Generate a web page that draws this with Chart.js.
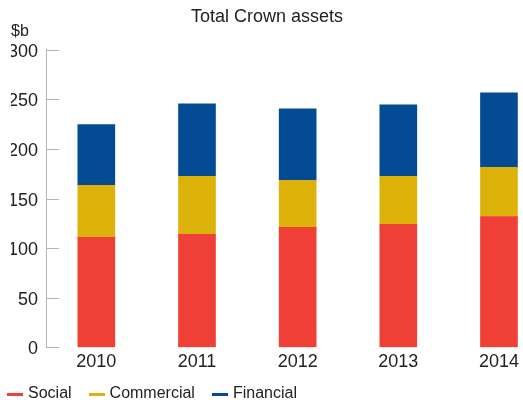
<!DOCTYPE html>
<html>
<head>
<meta charset="utf-8">
<title>Total Crown assets</title>
<script src="https://cdn.jsdelivr.net/npm/chart.js@4/dist/chart.umd.min.js"></script>
<style>
  html, body { margin: 0; padding: 0; background: #fff; }
  #wrap { position: relative; width: 523px; height: 400px; overflow: hidden; }
  #legend {
    position: absolute; left: 7px; top: 384px; height: 18px;
    display: flex; align-items: center;
    font: 16px "Liberation Sans", Arial, sans-serif; color: #222;
  }
  #legend .item { display: flex; align-items: center; margin-right: 17px; line-height: 18px; }
  #legend .swatch { width: 16px; height: 3px; margin-right: 5px; margin-top: 2px; }
</style>
</head>
<body>
<div id="wrap">
  <canvas id="assets-chart" width="523" height="400"></canvas>
  <div id="legend"></div>
</div>
<script>
// Années (axe x)
const years = [2010, 2011, 2012, 2013, 2014];

// Valeurs en milliards de dollars
const social = [111, 114, 121, 124, 132];
const commercial = [52.5, 58.5, 47.5, 48.5, 49.5];
const financial = [61, 73, 72, 72, 75];

// Graduations de l'axe y
const yTicks = [0, 50, 100, 150, 200, 250, 300];

const seriesNames = ['Social', 'Commercial', 'Financial'];
const seriesColors = ['#ef3f36', '#dcb20a', '#034c93'];

const fontFamily = '"Liberation Sans", Arial, sans-serif';

// Construction des points {x, y} pour chaque série
function toPoints(values) {
    return years.map((yr, i) => ({ x: yr, y: values[i] }));
}

// Petits traits de graduation vers l'intérieur du graphique
const innerTicks = {
    id: 'innerTicks',
    afterDraw(chart) {
        const y = chart.scales.y;
        const ctx = chart.ctx;
        ctx.save();
        ctx.strokeStyle = '#b4b4b4';
        ctx.lineWidth = 1;
        y.ticks.forEach(t => {
            const py = Math.round(y.getPixelForValue(t.value)) + 0.5;
            ctx.beginPath();
            ctx.moveTo(y.right, py);
            ctx.lineTo(y.right + 13, py);
            ctx.stroke();
        });
        ctx.restore();
    }
};

const ctx = document.getElementById('assets-chart').getContext('2d');
const chart = new Chart(ctx, {
    type: 'bar',
    data: {
        datasets: [social, commercial, financial].map((values, i) => ({
            label: seriesNames[i],
            data: toPoints(values),
            backgroundColor: seriesColors[i],
            borderWidth: 0,
            barThickness: 37
        }))
    },
    options: {
        responsive: false,
        animation: false,
        layout: {
            autoPadding: false,
            padding: { left: 11, right: 0, top: 0, bottom: 23 }
        },
        plugins: {
            legend: { display: false },
            tooltip: { enabled: false },
            title: {
                display: true,
                text: 'Total Crown assets',
                color: '#222',
                font: { family: fontFamily, size: 18, weight: 'normal', lineHeight: 1.2 },
                padding: { top: 6, bottom: -6 }
            },
            subtitle: {
                display: true,
                text: '$b',
                align: 'start',
                color: '#222',
                font: { family: fontFamily, size: 16, weight: 'normal', lineHeight: 1.2 },
                padding: { top: 0, bottom: 9 }
            }
        },
        scales: {
            x: {
                type: 'linear',
                stacked: true,
                offset: false,
                min: 2009.5,
                max: 2014.21,
                grid: { display: false, drawTicks: false, offset: false },
                border: { display: false },
                afterBuildTicks: scale => {
                    scale.ticks = years.map(v => ({ value: v }));
                },
                ticks: {
                    color: '#222',
                    padding: 4,
                    maxRotation: 0,
                    font: { family: fontFamily, size: 18 },
                    callback: v => String(v)
                }
            },
            y: {
                stacked: true,
                min: 0,
                max: 300,
                afterFit: scale => { scale.width = 35; },
                afterBuildTicks: scale => {
                    scale.ticks = yTicks.map(v => ({ value: v }));
                },
                grid: { display: true, drawOnChartArea: false, drawTicks: false },
                border: { display: true, color: '#b4b4b4', width: 1 },
                ticks: {
                    color: '#222',
                    padding: 8,
                    labelOffset: 2,
                    font: { family: fontFamily, size: 18 }
                }
            }
        }
    },
    plugins: [innerTicks]
});

// Légende construite à partir des séries du graphique
const legendBox = document.getElementById('legend');
chart.data.datasets.forEach(ds => {
    const item = document.createElement('span');
    item.className = 'item';
    const swatch = document.createElement('span');
    swatch.className = 'swatch';
    swatch.style.background = ds.backgroundColor;
    item.appendChild(swatch);
    item.appendChild(document.createTextNode(ds.label));
    legendBox.appendChild(item);
});
</script>
</body>
</html>
